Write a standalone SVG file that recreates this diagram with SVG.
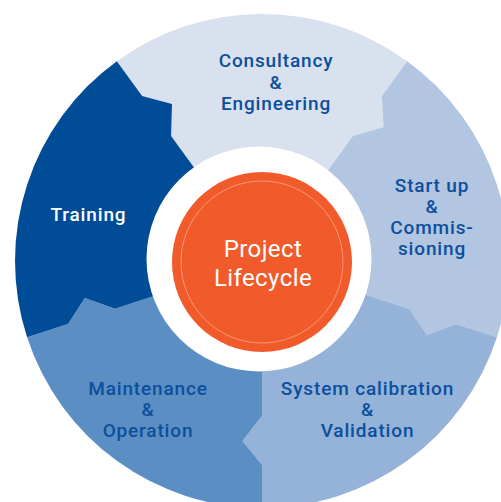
<svg xmlns="http://www.w3.org/2000/svg" width="501" height="502" viewBox="0 0 501 502">
<defs>
<style>
.lbl{font-family:Roboto,"Liberation Sans",sans-serif;font-size:19px;font-weight:500;letter-spacing:0.85px;fill:#0b4f9d;text-anchor:middle}
.wl{fill:#ffffff}
.ctr{font-family:Roboto,"Liberation Sans",sans-serif;font-size:24px;letter-spacing:0.4px;fill:#ffffff;text-anchor:middle}
</style>
<path id="wedge" d="M262,261 L171.1,135.9 L172,104 L142.1,96 L116.8,61.2 A247,247 0 0 1 407.2,61.2 L381.9,96 L383.5,126.9 L352.9,135.9 Z"/>
</defs>
<rect width="501" height="502" fill="#ffffff"/>
<g id="consultancy">
<use href="#wedge" fill="#d9e1ee"/>
<text class="lbl"><tspan x="276" y="67">Consultancy</tspan><tspan x="276" y="88.5">&amp;</tspan><tspan x="276" y="110">Engineering</tspan></text>
</g>
<g id="startup">
<use href="#wedge" fill="#b2c5e1" transform="rotate(72 262 261)"/>
<text class="lbl"><tspan x="432" y="192">Start up</tspan><tspan x="432" y="213">&amp;</tspan><tspan x="432" y="234">Commis-</tspan><tspan x="432" y="255">sioning</tspan></text>
</g>
<g id="calibration">
<use href="#wedge" fill="#95b2d8" transform="rotate(144 262 261)"/>
<text class="lbl"><tspan x="367.5" y="395">System calibration</tspan><tspan x="367.5" y="416">&amp;</tspan><tspan x="367.5" y="437">Validation</tspan></text>
</g>
<g id="maintenance">
<use href="#wedge" fill="#5b8fc3" transform="rotate(216 262 261)"/>
<text class="lbl"><tspan x="148" y="395">Maintenance</tspan><tspan x="148" y="416">&amp;</tspan><tspan x="148" y="437">Operation</tspan></text>
</g>
<g id="training">
<use href="#wedge" fill="#004c97" transform="rotate(288 262 261)"/>
<text class="lbl wl" x="88.5" y="221">Training</text>
</g>
<g id="center">
<circle cx="259" cy="259" r="112.5" fill="#ffffff"/>
<circle cx="262" cy="262" r="90" fill="#f15a2b"/>
<circle cx="262" cy="262" r="81" fill="none" stroke="#f69a78" stroke-width="1"/>
<text class="ctr"><tspan x="263" y="257">Project</tspan><tspan x="263" y="285.5">Lifecycle</tspan></text>
</g>
<g id="connectors"/>
</svg>
